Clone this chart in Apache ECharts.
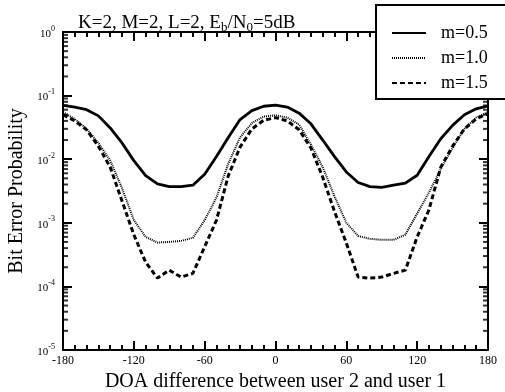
<!DOCTYPE html>
<html>
<head>
<meta charset="utf-8">
<script src="https://cdn.jsdelivr.net/npm/echarts@6/dist/echarts.min.js"></script>
<style>
  html, body { margin: 0; padding: 0; background: #fff; }
  #chart { width: 505px; height: 392px; }
</style>
</head>
<body>
<div id="chart"></div>
<script>
// DOA difference (deg)
const doa = [-180, -170, -160, -150, -140, -130, -120, -110, -100, -90, -80, -70, -60, -50, -40, -30, -20, -10,
  0, 10, 20, 30, 40, 50, 60, 70, 80, 90, 100, 110, 120, 130, 140, 150, 160, 170, 180];

// m=0.5
const berM05 = [0.070, 0.066, 0.060, 0.048, 0.031, 0.018, 0.0095, 0.0055, 0.0041, 0.0037, 0.0037, 0.0039, 0.0058,
  0.011, 0.022, 0.042, 0.058, 0.068, 0.071, 0.066, 0.053, 0.036, 0.020, 0.011, 0.0063, 0.0043, 0.0037, 0.0036,
  0.0039, 0.0042, 0.0056, 0.011, 0.021, 0.034, 0.050, 0.062, 0.069];
// m=1.0
const berM10 = [0.055, 0.043, 0.030, 0.018, 0.0095, 0.0035, 0.0011, 0.0006, 0.00049, 0.0005, 0.00052, 0.00058,
  0.0011, 0.0025, 0.0085, 0.022, 0.037, 0.047, 0.049, 0.045, 0.035, 0.017, 0.0075, 0.0026, 0.0010, 0.00062,
  0.00056, 0.00054, 0.00054, 0.00065, 0.0014, 0.003, 0.007, 0.015, 0.030, 0.045, 0.055];
// m=1.5
const berM15 = [0.050, 0.040, 0.029, 0.016, 0.0075, 0.0022, 0.00065, 0.00024, 0.000135, 0.00018, 0.00014, 0.00016,
  0.00042, 0.0011, 0.0055, 0.0155, 0.030, 0.041, 0.045, 0.040, 0.029, 0.015, 0.0052, 0.0015, 0.00048, 0.00014,
  0.000135, 0.00014, 0.00016, 0.00018, 0.0006, 0.0016, 0.0075, 0.016, 0.030, 0.043, 0.052];

const seriesNames = ['m=0.5', 'm=1.0', 'm=1.5'];

// log minor ticks (2..9 of every decade)
const yMinorTicks = [
  2e-5, 3e-5, 4e-5, 5e-5, 6e-5, 7e-5, 8e-5, 9e-5,
  2e-4, 3e-4, 4e-4, 5e-4, 6e-4, 7e-4, 8e-4, 9e-4,
  2e-3, 3e-3, 4e-3, 5e-3, 6e-3, 7e-3, 8e-3, 9e-3,
  2e-2, 3e-2, 4e-2, 5e-2, 6e-2, 7e-2, 8e-2, 9e-2,
  0.2, 0.3, 0.4, 0.5, 0.6, 0.7, 0.8, 0.9
];

const FONT = '"Liberation Serif", "DejaVu Serif", serif';

const pair = (ys) => doa.map((x, i) => [x, ys[i]]);

const chart = echarts.init(document.getElementById('chart'), null, { renderer: 'canvas' });

const supLabel = (val) => {
  const e = Math.round(Math.log10(val));
  return '{b|10}{s|' + e + '}';
};

const labelRich = {
  b: { fontFamily: FONT, fontSize: 11, color: '#000', padding: [4, 0, 0, 0] },
  s: { fontFamily: FONT, fontSize: 8, color: '#000', verticalAlign: 'top', padding: [0, 0, 4, 0] }
};

const axisLineStyle = () => ({ show: true, onZero: false, lineStyle: { color: '#000', width: 2 } });
const majorTick = () => ({ show: true, inside: true, length: 9, lineStyle: { color: '#000', width: 2 } });
const minorTickX = () => ({ show: true, splitNumber: 6, length: 5, lineStyle: { color: '#000', width: 2 } });

const option = {
  animation: false,
  backgroundColor: '#fff',
  title: {
    text: 'K=2, M=2, L=2, E{sub|b}/N{sub|0}=5dB',
    left: 73,
    top: 7,
    textStyle: {
      fontFamily: FONT,
      fontSize: 19,
      fontWeight: 'normal',
      color: '#000',
      rich: {
        sub: { fontFamily: FONT, fontSize: 13, color: '#000', verticalAlign: 'bottom', padding: [9, 0, 0, 0] }
      }
    }
  },
  legend: {
    data: seriesNames,
    orient: 'vertical',
    left: 376,
    top: 5,
    backgroundColor: '#fff',
    borderColor: '#000',
    borderWidth: 2,
    borderRadius: 0,
    padding: [19, 24, 7, 15],
    itemWidth: 34,
    itemHeight: 18,
    itemGap: 7,
    itemStyle: { opacity: 0 },
    textStyle: { fontFamily: FONT, fontSize: 18, color: '#000', padding: [0, 0, 0, 10] },
    z: 10
  },
  grid: { left: 63, right: 17, top: 32, bottom: 42, outerBoundsMode: 'none', containLabel: false },
  xAxis: [
    {
      type: 'value',
      min: -180,
      max: 180,
      interval: 60,
      name: 'DOA difference between user 2 and user 1',
      nameLocation: 'middle',
      nameGap: 20,
      nameTextStyle: { fontFamily: FONT, fontSize: 20, color: '#000' },
      axisLine: axisLineStyle(),
      axisTick: majorTick(),
      minorTick: minorTickX(),
      axisLabel: { fontFamily: FONT, fontSize: 12, color: '#000', margin: 5 },
      splitLine: { show: false }
    },
    {
      type: 'value',
      position: 'top',
      min: -180,
      max: 180,
      interval: 60,
      axisLine: axisLineStyle(),
      axisTick: majorTick(),
      minorTick: minorTickX(),
      axisLabel: { show: false },
      splitLine: { show: false }
    }
  ],
  yAxis: [
    {
      type: 'log',
      min: 1e-5,
      max: 1,
      logBase: 10,
      splitNumber: 5,
      name: 'Bit Error Probability',
      nameLocation: 'middle',
      nameGap: 35,
      nameTextStyle: { fontFamily: FONT, fontSize: 20, color: '#000' },
      axisLine: axisLineStyle(),
      axisTick: majorTick(),
      axisLabel: { formatter: supLabel, rich: labelRich, margin: 8 },
      splitLine: { show: false }
    },
    {
      type: 'log',
      position: 'right',
      min: 1e-5,
      max: 1,
      logBase: 10,
      splitNumber: 5,
      axisLine: axisLineStyle(),
      axisTick: majorTick(),
      axisLabel: { show: false },
      splitLine: { show: false }
    }
  ],
  series: [
    {
      name: 'm=0.5',
      type: 'line',
      data: pair(berM05),
      symbol: 'none',
      color: '#000',
      lineStyle: { color: '#000', width: 2.8, type: 'solid' }
    },
    {
      name: 'm=1.0',
      type: 'line',
      data: pair(berM10),
      symbol: 'none',
      color: '#000',
      lineStyle: { color: '#000', width: 2, type: [1, 1] }
    },
    {
      name: 'm=1.5',
      type: 'line',
      data: pair(berM15),
      symbol: 'none',
      color: '#000',
      lineStyle: { color: '#000', width: 3, type: [5, 3] }
    },
    {
      name: 'minorLeft',
      type: 'scatter',
      data: yMinorTicks.map((v) => [-180, v]),
      symbol: 'rect',
      symbolSize: [5, 2],
      symbolOffset: [2.5, 0],
      itemStyle: { color: '#000' },
      clip: false,
      silent: true,
      z: 5
    },
    {
      name: 'minorRight',
      type: 'scatter',
      data: yMinorTicks.map((v) => [180, v]),
      symbol: 'rect',
      symbolSize: [5, 2],
      symbolOffset: [-2.5, 0],
      itemStyle: { color: '#000' },
      clip: false,
      silent: true,
      z: 5
    }
  ]
};

chart.setOption(option);
</script>
</body>
</html>
